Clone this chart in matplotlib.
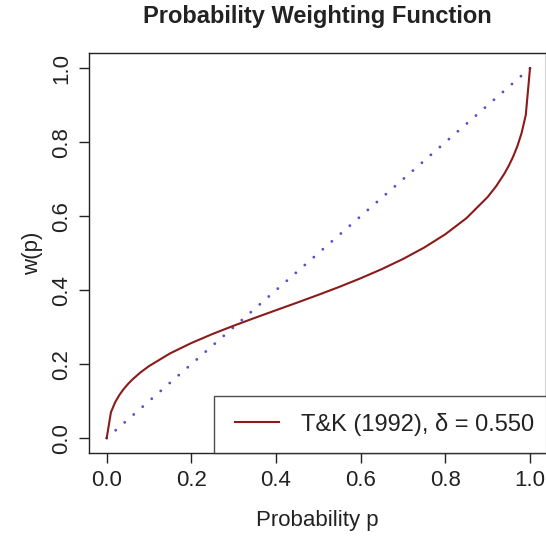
import matplotlib
matplotlib.use("Agg")
import matplotlib.pyplot as plt
from matplotlib.lines import Line2D
from matplotlib.legend_handler import HandlerLine2D

plt.rcParams['font.family'] = ['Liberation Sans', 'DejaVu Sans']
plt.rcParams['lines.scale_dashes'] = False

# Data: T&K (1992) weighting function values
p_vals = [0.0, 0.01, 0.02, 0.03, 0.04, 0.05, 0.06, 0.08, 0.10, 0.15, 0.20, 0.25,
          0.30, 0.35, 0.40, 0.45, 0.50, 0.55, 0.60, 0.65, 0.70, 0.75, 0.80,
          0.85, 0.90, 0.92, 0.94, 0.95, 0.96, 0.97, 0.98, 0.99, 1.0]
w_vals = [0.0, 0.0698, 0.0970, 0.1166, 0.1325, 0.1459, 0.1577, 0.1778, 0.1947,
          0.2292, 0.2571, 0.2815, 0.3039, 0.3251, 0.3458, 0.3664, 0.3874,
          0.4091, 0.4322, 0.4570, 0.4843, 0.5152, 0.5512, 0.5949, 0.6520,
          0.6811, 0.7161, 0.7368, 0.7607, 0.7890, 0.8244, 0.8735, 1.0]
diag_x = [0.0, 1.0]
diag_y = [0.0, 1.0]
x_ticks = [0.0, 0.2, 0.4, 0.6, 0.8, 1.0]
y_ticks = [0.0, 0.2, 0.4, 0.6, 0.8, 1.0]
legend_label = "T&K (1992), δ = 0.550"

W, H = 546, 537
fig = plt.figure(figsize=(W / 100, H / 100), dpi=100)
ax = fig.add_axes([89.3 / W, 1 - 452.7 / H, (545.5 - 89.3) / W, (452.7 - 53.3) / H])

curve_color = '#8B1A1A'
diag_color = '#5B4FC8'
txt = '#222222'

ax.plot(diag_x, diag_y, color=diag_color, lw=2.1, linestyle=(0, (0.01, 8.6)),
        dash_capstyle='round', solid_capstyle='round')
ax.plot(p_vals, w_vals, color=curve_color, lw=1.5)

ax.set_xlim(-0.0411, 1.0366)
ax.set_ylim(-0.0395, 1.0405)

ax.set_xticks(x_ticks)
ax.set_xticklabels([f"{t:.1f}" for t in x_ticks])
ax.set_yticks(y_ticks)
ax.set_yticklabels([f"{t:.1f}" for t in y_ticks], rotation=90, va='center')

for s in ax.spines.values():
    s.set_linewidth(1.0)
    s.set_color(txt)
ax.tick_params(length=7.2, width=1.0, colors=txt, labelsize=16, pad=5)
for lab in ax.get_xticklabels() + ax.get_yticklabels():
    lab.set_color(txt)

ax.set_xlabel("Probability p", fontsize=16, color=txt, labelpad=14)
ax.set_ylabel("w(p)", fontsize=16, color=txt, labelpad=6)
fig.text(317.5 / W, 1 - 16 / H, "Probability Weighting Function", ha='center', va='center',
         fontsize=17, fontweight='bold', color=txt)

handle = Line2D([], [], color=curve_color, lw=1.5)
anchor = ax.transAxes.inverted().transform(fig.transFigure.transform((214 / W, 1 - 452.7 / H)))
leg = ax.legend([handle], [legend_label], loc='lower left', bbox_to_anchor=(anchor[0], anchor[1]),
                fontsize=17, frameon=True, fancybox=False, borderaxespad=0,
                handlelength=2.03, borderpad=0.72, handletextpad=0.92,
                handler_map={Line2D: HandlerLine2D(xpad=0.17)})
leg.get_frame().set_edgecolor(txt)
leg.get_frame().set_linewidth(1.0)
for t in leg.get_texts():
    t.set_color(txt)

fig.savefig("out.png", dpi=100)
